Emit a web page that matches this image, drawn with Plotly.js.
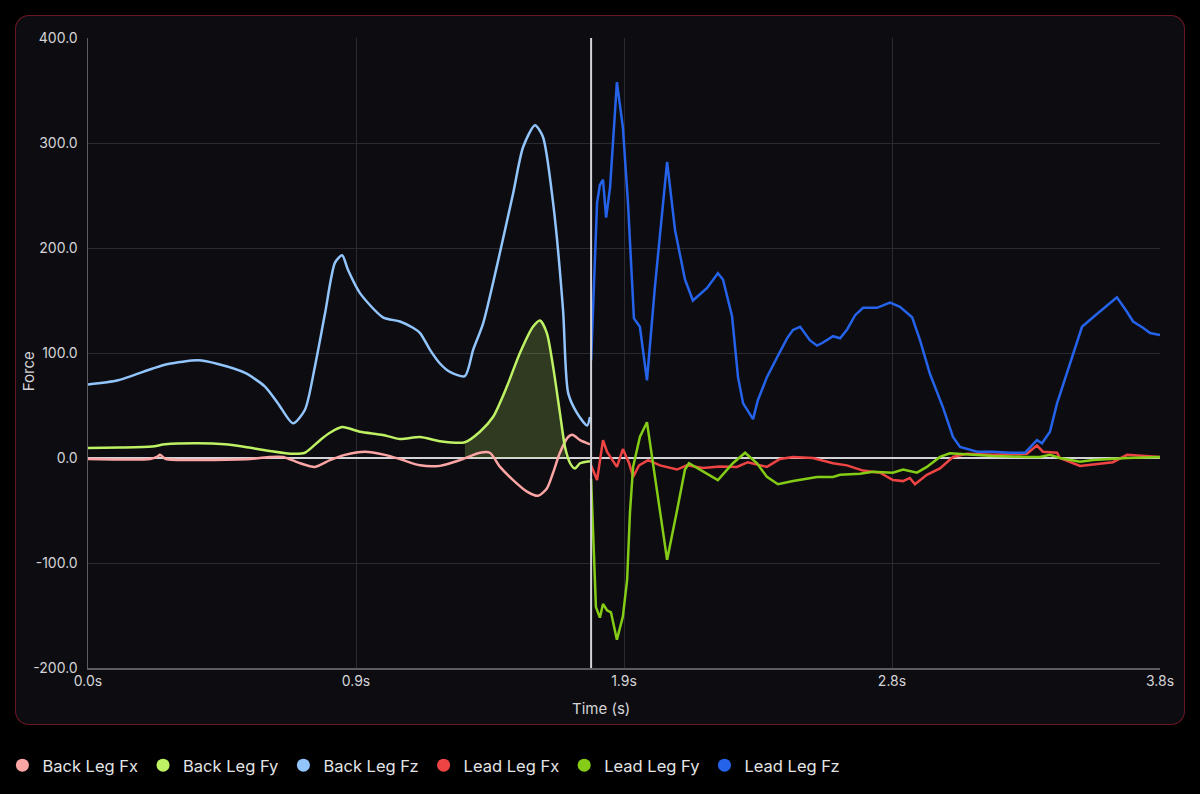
<!DOCTYPE html>
<html>
<head>
<meta charset="utf-8">
<script src="https://cdn.plot.ly/plotly-3.0.1.min.js"></script>
<style>
  html, body { margin:0; padding:0; background:#000; width:1200px; height:794px; overflow:hidden; }
  #card { position:absolute; left:15px; top:15px; width:1168px; height:708px; border:1px solid rgba(140,28,42,0.75); border-radius:14px; background:#0d0d11; }
  #chart { position:absolute; left:0; top:0; width:1200px; height:794px; }
</style>
</head>
<body>
<div id="card"></div>
<div id="chart"></div>
<script>
// ---- Back leg (before contact switch) ----
const backFxT = [0.000,0.219,0.243,0.254,0.264,0.275,0.571,0.642,0.688,0.748,0.800,0.853,0.906,0.977,1.047,1.100,1.171,1.241,1.312,1.382,1.417,1.453,1.499,1.548,1.587,1.618,1.640,1.664,1.693,1.710,1.735,1.770];
const backFx  = [-1,-1,1,3,1,-1,-1,1,1,-5,-8.5,-2,3,6,3,-1,-7,-7.5,-2,5,5,-8.5,-21,-32,-36,-29,-14,5,20,22,17,13];

const backFyT = [0.000,0.113,0.226,0.272,0.388,0.483,0.554,0.635,0.723,0.765,0.818,0.853,0.896,0.959,1.040,1.100,1.171,1.241,1.329,1.382,1.428,1.477,1.523,1.569,1.594,1.618,1.640,1.664,1.682,1.700,1.717,1.735,1.770];
const backFy  = [9.5,10,11,13,14,13,10.5,7,4,5,17,24,29.5,25,22,18,20,16,15,25,39,68,100,125,131,119,87,43,10.5,-5,-10,-5,-3];

const backFzT = [0.000,0.106,0.226,0.282,0.388,0.458,0.554,0.624,0.670,0.723,0.765,0.800,0.836,0.871,0.896,0.917,0.959,1.040,1.100,1.146,1.171,1.206,1.241,1.276,1.329,1.358,1.393,1.442,1.499,1.534,1.576,1.604,1.640,1.675,1.693,1.724,1.760,1.770];
const backFz  = [70,74,85,89.5,93,89.5,81,68,52,33,46,87,138,186,193,179,157,134,130,124,119,103,90,82,78,103,128,183,252,296,317,306,243,141,62,43,31,39];

// Shaded push-off window of Back Leg Fy (start / end times)
const shadeStart = 1.329;
const shadeEnd = 1.682;

// ---- Lead leg (after contact switch) ----
const switchTime = 1.774;

const leadFxT = [1.774,1.795,1.816,1.830,1.865,1.886,1.908,1.922,1.943,1.975,2.017,2.077,2.112,2.169,2.228,2.288,2.327,2.394,2.440,2.486,2.556,2.627,2.676,2.733,2.793,2.838,2.874,2.898,2.916,2.958,3.004,3.050,3.099,3.191,3.311,3.346,3.367,3.417,3.427,3.498,3.614,3.664,3.780];
const leadFx  = [-7,-21,17,6,-8.5,8.5,-5,-18,-7,-2,-7,-11,-7,-9.5,-8,-8.5,-4,-8.5,-1,1,0,-5,-7,-12,-14,-21,-22,-19,-25,-16,-10,1,4,3,4,12,6,5,0,-7.5,-4,3,1];

const leadFyT = [1.774,1.791,1.805,1.816,1.830,1.844,1.865,1.886,1.901,1.911,1.922,1.946,1.971,1.989,2.017,2.042,2.077,2.105,2.119,2.169,2.221,2.274,2.317,2.359,2.394,2.433,2.486,2.571,2.627,2.652,2.722,2.768,2.838,2.874,2.923,2.958,3.004,3.039,3.110,3.191,3.311,3.357,3.392,3.427,3.498,3.544,3.664,3.780];
const leadFy  = [-20,-142,-152,-139,-145,-147,-173,-151,-116,-52,-8.5,20,34,1,-50,-97,-50,-11,-5,-13,-21,-5,5,-5,-18,-25,-22,-18,-18,-16,-15,-13,-14,-11,-14,-8.5,1,4.5,3,2,1,1,3,0,-3.5,-2,0,1];

const leadFzT = [1.774,1.795,1.805,1.816,1.827,1.841,1.865,1.886,1.904,1.925,1.946,1.971,1.999,2.042,2.070,2.105,2.133,2.183,2.221,2.239,2.271,2.292,2.310,2.345,2.362,2.394,2.430,2.465,2.486,2.511,2.546,2.571,2.592,2.627,2.652,2.676,2.705,2.733,2.782,2.828,2.863,2.888,2.906,2.934,2.969,3.015,3.050,3.075,3.135,3.191,3.251,3.304,3.346,3.364,3.392,3.417,3.452,3.505,3.544,3.628,3.664,3.685,3.720,3.745,3.780];
const leadFz  = [93,243,260,265,229,258,358,315,243,133,125,74,163,282,217,170,150,162,176,170,135,77,52,37,55,77,96,114,122,125,112,107,110,116,114,122,136,143,143,148,144,138,134,112,80,48,20,10.5,6,6,5,5,17,14,25,52,81,125,134,153,139,130,124,119,117];

// ---- Axes ----
const xTickVals = [0, 0.945, 1.89, 2.835, 3.78];
const xTickText = ['0.0s', '0.9s', '1.9s', '2.8s', '3.8s'];
const yTickVals = [-200, -100, 0, 100, 200, 300, 400];
const yTickText = ['-200.0', '-100.0', '0.0', '100.0', '200.0', '300.0', '400.0'];
const xTitle = 'Time (s)';
const yTitle = 'Force';

const seriesNames = ['Back Leg Fx','Back Leg Fy','Back Leg Fz','Lead Leg Fx','Lead Leg Fy','Lead Leg Fz'];
const seriesColors = ['#fca5a5','#bef264','#93c5fd','#ef4444','#84cc16','#2563eb'];
const seriesSmooth = [true, true, true, false, false, false];

const series = [
  [backFxT, backFx], [backFyT, backFy], [backFzT, backFz],
  [leadFxT, leadFx], [leadFyT, leadFy], [leadFzT, leadFz]
];

// shaded area from Back Leg Fy
const shadeX = [], shadeY = [];
backFyT.forEach((t, i) => { if (t >= shadeStart && t <= shadeEnd) { shadeX.push(t); shadeY.push(backFy[i]); } });

const traces = [];
traces.push({
  x: shadeX, y: shadeY, type: 'scatter', mode: 'lines',
  line: {width: 0, color: 'rgba(0,0,0,0)', shape: 'spline', smoothing: 0.7},
  fill: 'tozeroy', fillcolor: 'rgba(190,242,100,0.2)',
  hoverinfo: 'skip', showlegend: false
});
series.forEach((s, i) => {
  traces.push({
    x: s[0], y: s[1], type: 'scatter', mode: 'lines', name: seriesNames[i],
    line: seriesSmooth[i] ? {color: seriesColors[i], width: 2.5, shape: 'spline', smoothing: 0.7}
                          : {color: seriesColors[i], width: 2.5},
    showlegend: false
  });
});
// legend entries (circle symbols)
seriesNames.forEach((n, i) => {
  traces.push({
    x: [null], y: [null], type: 'scatter', mode: 'markers', name: n,
    marker: {color: seriesColors[i], size: 13, symbol: 'circle'}, showlegend: true
  });
});

const layout = {
  width: 1200, height: 794,
  paper_bgcolor: 'rgba(0,0,0,0)', plot_bgcolor: 'rgba(0,0,0,0)',
  font: {family: 'Inter, "Noto Sans", sans-serif', color: '#d4d4d8', size: 14},
  margin: {l: 88, r: 40, t: 38, b: 126},
  showlegend: true,
  legend: {
    orientation: 'h', xref: 'container', yref: 'container',
    x: 0.002, y: 0.036, xanchor: 'left', yanchor: 'middle',
    font: {size: 16.5, color: '#e4e4e7'}, itemwidth: 30,
    bgcolor: 'rgba(0,0,0,0)'
  },
  xaxis: {
    range: [0, 3.78], tickvals: xTickVals, ticktext: xTickText,
    showgrid: true, gridcolor: '#2a2a31', gridwidth: 1,
    showline: true, linecolor: '#5c5c63', linewidth: 1.5,
    zeroline: false, ticks: '',
    tickfont: {size: 14, color: '#d4d4d8'}
  },
  yaxis: {
    range: [-200, 400], tickvals: yTickVals, ticktext: yTickText,
    showgrid: true, gridcolor: '#2a2a31', gridwidth: 1,
    showline: true, linecolor: '#5c5c63', linewidth: 1.5,
    zeroline: true, zerolinecolor: '#d4d4d8', zerolinewidth: 2,
    ticks: '', ticklabelstandoff: 6,
    tickfont: {size: 14, color: '#d4d4d8'}
  },
  annotations: [
    {text: xTitle, xref: 'paper', yref: 'paper', x: 0.479, y: -0.065,
     xanchor: 'center', yanchor: 'middle', showarrow: false,
     font: {size: 15, color: '#d4d4d8'}},
    {text: yTitle, xref: 'paper', yref: 'paper', x: -0.056, y: 0.471, textangle: -90,
     xanchor: 'center', yanchor: 'middle', showarrow: false,
     font: {size: 15, color: '#d4d4d8'}}
  ],
  shapes: [{
    type: 'line', xref: 'x', yref: 'paper', x0: switchTime, x1: switchTime, y0: 0, y1: 1,
    line: {color: '#d4d4d8', width: 2}
  }]
};

Plotly.newPlot('chart', traces, layout, {displayModeBar: false, staticPlot: true});
</script>
</body>
</html>
